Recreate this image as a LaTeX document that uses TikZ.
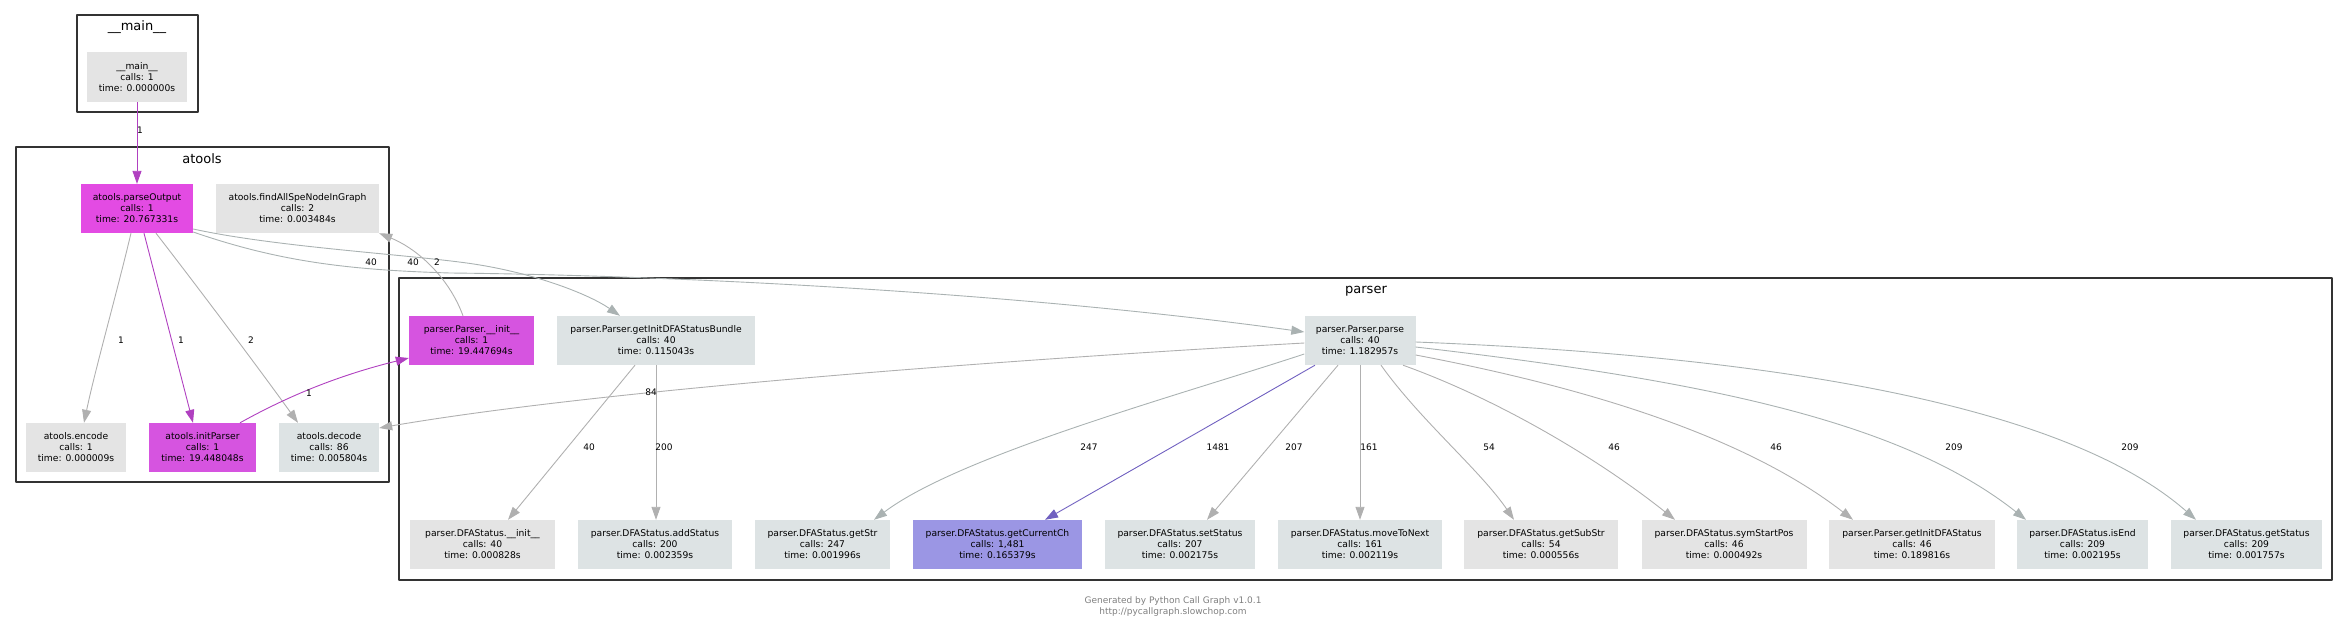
\documentclass[tikz,border=0pt]{standalone}
\usepackage{fontspec}
\setmainfont{DejaVu Sans}
\usetikzlibrary{arrows.meta}
\definecolor{fngray}{RGB}{228,228,228}
\definecolor{fnblue}{RGB}{221,227,228}
\definecolor{fnmagA}{RGB}{227,75,227}
\definecolor{fnmagB}{RGB}{214,84,224}
\definecolor{fnpurp}{RGB}{155,150,228}
\definecolor{egray}{RGB}{176,176,176}
\definecolor{egrayb}{RGB}{170,178,178}
\definecolor{emag}{RGB}{176,64,192}
\definecolor{eblue}{RGB}{112,96,192}
\definecolor{clline}{RGB}{51,51,51}
\newcommand{\fnbox}[3]{#1\\calls: #2\\time: #3}
\tikzset{
  fn/.style={inner sep=0pt, minimum height=49pt, align=center,
    font=\fontsize{9.2}{11}\selectfont},
  fngr/.style={fn, fill=fngray},
  fnbl/.style={fn, fill=fnblue},
  fnma/.style={fn, fill=fnmagA},
  fnmb/.style={fn, fill=fnmagB},
  fnpu/.style={fn, fill=fnpurp},
  call/.style={draw=egray, line width=0.9pt, -{Triangle[length=13pt,width=9pt]}},
  callb/.style={call, draw=egrayb},
  callm/.style={call, draw=emag},
  callu/.style={call, draw=eblue},
  cnt/.style={font=\fontsize{9}{11}\selectfont, inner sep=0pt},
  clbox/.style={draw=clline, line width=2.5pt},
  cltitle/.style={font=\fontsize{13}{15}\selectfont, inner sep=0pt}
}
\begin{document}
\begin{tikzpicture}[x=1pt, y=-1pt, line join=round]
\useasboundingbox (0,0) rectangle (2348,629);
% clusters
\draw[clbox] (77,15) rectangle (198,112);
\draw[clbox] (16,147) rectangle (389,482);
\draw[clbox] (399,278) rectangle (2332,580);
\node[cltitle] (tmain) at (137,27) {\_\_main\_\_};
\node[cltitle] (tatools) at (202,159) {atools};
\node[cltitle] (tparser) at (1366,291) {parser};
% __main__
\node[fngr, minimum width=100pt, minimum height=50pt] (main) at (137,77) {\fnbox{\_\_main\_\_}{1}{0.000000s}};
% atools
\node[fnma, minimum width=112pt] (po) at (137,208.5) {\fnbox{atools.parseOutput}{1}{20.767331s}};
\node[fngr, minimum width=163pt] (fa) at (297.5,208.5) {\fnbox{atools.findAllSpeNodeInGraph}{2}{0.003484s}};
\node[fngr, minimum width=100pt] (enc) at (76,447.5) {\fnbox{atools.encode}{1}{0.000009s}};
\node[fnmb, minimum width=107pt] (ip) at (202.5,447.5) {\fnbox{atools.initParser}{1}{19.448048s}};
\node[fnbl, minimum width=100pt] (dec) at (329,447.5) {\fnbox{atools.decode}{86}{0.005804s}};
% parser
\node[fnmb, minimum width=125pt] (pi) at (471.5,340.5) {\fnbox{parser.Parser.\_\_init\_\_}{1}{19.447694s}};
\node[fnbl, minimum width=198pt] (bun) at (656,340.5) {\fnbox{parser.Parser.getInitDFAStatusBundle}{40}{0.115043s}};
\node[fnbl, minimum width=111pt] (pp) at (1360,340.5) {\fnbox{parser.Parser.parse}{40}{1.182957s}};
\node[fngr, minimum width=145pt] (di) at (482.5,544.5) {\fnbox{parser.DFAStatus.\_\_init\_\_}{40}{0.000828s}};
\node[fnbl, minimum width=154pt] (as) at (655,544.5) {\fnbox{parser.DFAStatus.addStatus}{200}{0.002359s}};
\node[fnbl, minimum width=135pt] (gs) at (822.5,544.5) {\fnbox{parser.DFAStatus.getStr}{247}{0.001996s}};
\node[fnpu, minimum width=169pt] (gc) at (997.5,544.5) {\fnbox{parser.DFAStatus.getCurrentCh}{1,481}{0.165379s}};
\node[fnbl, minimum width=150pt] (ss) at (1180,544.5) {\fnbox{parser.DFAStatus.setStatus}{207}{0.002175s}};
\node[fnbl, minimum width=164pt] (mn) at (1360,544.5) {\fnbox{parser.DFAStatus.moveToNext}{161}{0.002119s}};
\node[fngr, minimum width=154pt] (gss) at (1541,544.5) {\fnbox{parser.DFAStatus.getSubStr}{54}{0.000556s}};
\node[fngr, minimum width=165pt] (ssp) at (1724,544.5) {\fnbox{parser.DFAStatus.symStartPos}{46}{0.000492s}};
\node[fngr, minimum width=166pt] (gid) at (1912,544.5) {\fnbox{parser.Parser.getInitDFAStatus}{46}{0.189816s}};
\node[fnbl, minimum width=131pt] (ie) at (2082.5,544.5) {\fnbox{parser.DFAStatus.isEnd}{209}{0.002195s}};
\node[fnbl, minimum width=151pt] (gst) at (2246.5,544.5) {\fnbox{parser.DFAStatus.getStatus}{209}{0.001757s}};
% calls
\draw[callm] (main.south) -- (po.north);
\draw[call] ([xshift=-6pt]po.south) .. controls (115,300) and (95,370) .. ([xshift=8pt]enc.north);
\draw[callm] ([xshift=7pt]po.south) -- ([xshift=-9.5pt]ip.north);
\draw[call] ([xshift=19pt]po.south) .. controls (200,290) and (260,370) .. ([xshift=-31pt]dec.north);
\draw[callb] ([yshift=-20.5pt]po.east) .. controls (280,248) and (420,255) .. (480,265)
  .. controls (540,275) and (590,295) .. ([xshift=-36pt]bun.north);
\draw[callb] ([yshift=-23.5pt]po.east) .. controls (280,262) and (350,270) .. (450,273)
  .. controls (650,275) and (1000,290) .. ([yshift=8.5pt]pp.west);
\draw[call] ([xshift=-8.5pt]pi.north) .. controls (450,280) and (420,250) .. (fa.south east);
\draw[callm] ([xshift=37.5pt]ip.north) .. controls (290,395) and (340,375) .. ([yshift=-17.5pt]pi.west);
\draw[call] ([xshift=-21pt]bun.south) -- ([xshift=25.5pt]di.north);
\draw[call] (bun.south) -- (bun.south |- as.north);
\draw[call] ([yshift=-2.5pt]pp.west) .. controls (1000,360) and (600,390) .. ([yshift=19.5pt]dec.east);
\draw[callb] ([yshift=-13.5pt]pp.west) .. controls (1180,395) and (960,455) .. ([xshift=51.5pt]gs.north);
\draw[callu] ([xshift=-45pt]pp.south) -- ([xshift=47.5pt]gc.north);
\draw[call] ([xshift=-22pt]pp.south) -- ([xshift=27pt]ss.north);
\draw[call] (pp.south) -- (mn.north);
\draw[call] ([xshift=21pt]pp.south) .. controls (1420,420) and (1480,470) .. ([xshift=-27pt]gss.north);
\draw[call] ([xshift=43pt]pp.south) .. controls (1500,400) and (1600,460) .. ([xshift=-49pt]ssp.north);
\draw[call] ([yshift=-14.5pt]pp.east) .. controls (1600,390) and (1750,440) .. ([xshift=-59pt]gid.north);
\draw[callb] ([yshift=-6.5pt]pp.east) .. controls (1700,380) and (1900,420) .. ([xshift=-56.5pt]ie.north);
\draw[callb] ([yshift=-1.5pt]pp.east) .. controls (1750,355) and (2060,400) .. ([xshift=-50.5pt]gst.north);
% call counts
\node[cnt] (n1) at (140,130) {1};
\node[cnt] (n2) at (121,340) {1};
\node[cnt] (n3) at (181,340) {1};
\node[cnt] (n4) at (251,340) {2};
\node[cnt] (n5) at (371,262) {40};
\node[cnt] (n6) at (413,262) {40};
\node[cnt] (n7) at (437,262) {2};
\node[cnt] (n8) at (309,393) {1};
\node[cnt] (n9) at (651,392) {84};
\node[cnt] (n10) at (589,447) {40};
\node[cnt] (n11) at (664,447) {200};
\node[cnt] (n12) at (1089,447) {247};
\node[cnt] (n13) at (1218,447) {1481};
\node[cnt] (n14) at (1294,447) {207};
\node[cnt] (n15) at (1369,447) {161};
\node[cnt] (n16) at (1489,447) {54};
\node[cnt] (n17) at (1614,447) {46};
\node[cnt] (n18) at (1776,447) {46};
\node[cnt] (n19) at (1954,447) {209};
\node[cnt] (n20) at (2130,447) {209};
% footer
\node[cnt, align=center, text=black!50, font=\fontsize{9}{11}\selectfont] (foot) at (1173,606.5)
  {Generated by Python Call Graph v1.0.1\\http://pycallgraph.slowchop.com};
\end{tikzpicture}
\end{document}
